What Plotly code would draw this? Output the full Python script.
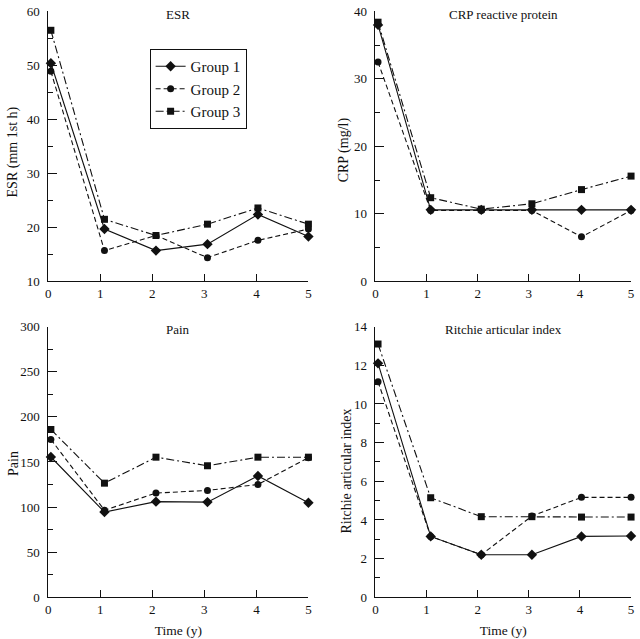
import plotly.graph_objects as go

# ---------------- data ----------------
time_years = [0.05, 1.08, 2.07, 3.06, 4.03, 5.0]
group_names = ["Group 1", "Group 2", "Group 3"]

esr_g1 = [50.4, 19.7, 15.7, 16.9, 22.4, 18.3]
esr_g2 = [48.9, 15.7, 18.5, 14.4, 17.6, 19.7]
esr_g3 = [56.5, 21.5, 18.5, 20.6, 23.6, 20.6]

crp_g1 = [38.0, 10.6, 10.6, 10.6, 10.6, 10.6]
crp_g2 = [32.5, 10.5, 10.5, 10.5, 6.6, 10.5]
crp_g3 = [38.4, 12.4, 10.7, 11.5, 13.6, 15.6]

pain_g1 = [155.5, 94.5, 106.0, 105.5, 134.5, 104.8]
pain_g2 = [175.0, 96.5, 115.5, 118.5, 125.0, 154.8]
pain_g3 = [186.0, 126.5, 155.3, 145.8, 155.3, 155.3]

rai_g1 = [12.1, 3.15, 2.2, 2.2, 3.15, 3.17]
rai_g2 = [11.15, 3.15, 2.2, 4.2, 5.17, 5.17]
rai_g3 = [13.1, 5.15, 4.17, 4.17, 4.15, 4.15]

panel_titles = ["ESR", "CRP reactive protein", "Pain", "Ritchie articular index"]
y_titles = ["ESR (mm 1st h)", "CRP (mg/l)", "Pain", "Ritchie articular index"]
x_title = "Time (y)"
y_ranges = [[10, 60], [0, 40], [0, 300], [0, 14]]
y_dticks = [10, 10, 50, 2]
x_range = [0, 5]

panel_series = [
    [esr_g1, esr_g2, esr_g3],
    [crp_g1, crp_g2, crp_g3],
    [pain_g1, pain_g2, pain_g3],
    [rai_g1, rai_g2, rai_g3],
]

# ---------------- styling ----------------
W, H = 640, 639
FONT = "Liberation Serif"
INK = "#111111"
symbols = ["diamond", "circle", "square"]
marker_sizes = [8, 7, 7]
dashes = ["solid", "5px,3px", "8px,3px,2px,3px"]

# pixel boxes of the four panels: (left, right, top, bottom)
boxes = [
    (45.7, 308.3, 4.5, 281.0),
    (376.0, 634.0, 4.5, 281.0),
    (45.7, 308.3, 327.3, 604.5),
    (376.0, 634.0, 327.3, 604.5),
]
# pixel centres of the rotated y-axis titles
ytitle_pos = [(10, 148), (344, 146), (10, 467), (347, 475)]

fig = go.Figure()

for i, series in enumerate(panel_series):
    ax = "" if i == 0 else str(i + 1)
    for g, vals in enumerate(series):
        fig.add_trace(go.Scatter(
            x=time_years, y=vals,
            name=group_names[g],
            mode="lines+markers",
            line=dict(color=INK, width=1.1, dash=dashes[g]),
            marker=dict(symbol=symbols[g], size=marker_sizes[g], color=INK),
            cliponaxis=False,
            showlegend=(i == 0),
            xaxis="x" + ax, yaxis="y" + ax,
        ))

layout = dict(
    width=W, height=H,
    margin=dict(l=0, r=0, t=0, b=0),
    paper_bgcolor="white", plot_bgcolor="white",
    font=dict(family=FONT, size=13, color=INK),
    showlegend=True,
    legend=dict(
        x=148 / W, y=1 - 43 / H, xanchor="left", yanchor="top",
        bordercolor=INK, borderwidth=1, bgcolor="white",
        font=dict(family=FONT, size=15, color=INK),
        tracegroupgap=0,
    ),
)

annotations = []
for i, (l, r, t, b) in enumerate(boxes):
    ax = "" if i == 0 else str(i + 1)
    xd = [l / W, r / W]
    yd = [1 - b / H, 1 - t / H]
    bottom_row = i >= 2
    layout["xaxis" + ax] = dict(
        domain=xd, anchor="y" + ax, range=x_range, dtick=1, tick0=0,
        showline=True, linecolor=INK, linewidth=1,
        ticks="inside", ticklen=7, tickcolor=INK,
        showgrid=False, zeroline=False,
        ticklabeloverflow="allow",
        tickfont=dict(family=FONT, size=13, color=INK),
        title=dict(text=x_title if bottom_row else "", standoff=9,
                   font=dict(family=FONT, size=13.5, color=INK)),
    )
    layout["yaxis" + ax] = dict(
        domain=yd, anchor="x" + ax, range=y_ranges[i], dtick=y_dticks[i],
        showline=True, linecolor=INK, linewidth=1,
        ticks="inside", ticklen=9, tickcolor=INK,
        minor=dict(ticks="inside", ticklen=5, dtick=y_dticks[i] / 2, tickcolor=INK),
        showgrid=False, zeroline=False,
        ticklabelstandoff=5,
        ticklabeloverflow="allow",
        tickfont=dict(family=FONT, size=13, color=INK),
    )
    annotations.append(dict(
        text=panel_titles[i], xref="paper", yref="paper",
        x=(xd[0] + xd[1]) / 2, y=1 - (t + 3) / H,
        xanchor="center", yanchor="middle", showarrow=False,
        font=dict(family=FONT, size=13, color=INK),
    ))
    px, py = ytitle_pos[i]
    annotations.append(dict(
        text=y_titles[i], xref="paper", yref="paper",
        x=px / W, y=1 - py / H, textangle=-90,
        xanchor="center", yanchor="middle", showarrow=False,
        font=dict(family=FONT, size=14, color=INK),
    ))

layout["annotations"] = annotations
fig.update_layout(**layout)
fig.write_html(
    "out.html",
    config={"displayModeBar": False},
    post_script="document.body.style.margin='0';document.body.style.overflow='hidden';",
)
